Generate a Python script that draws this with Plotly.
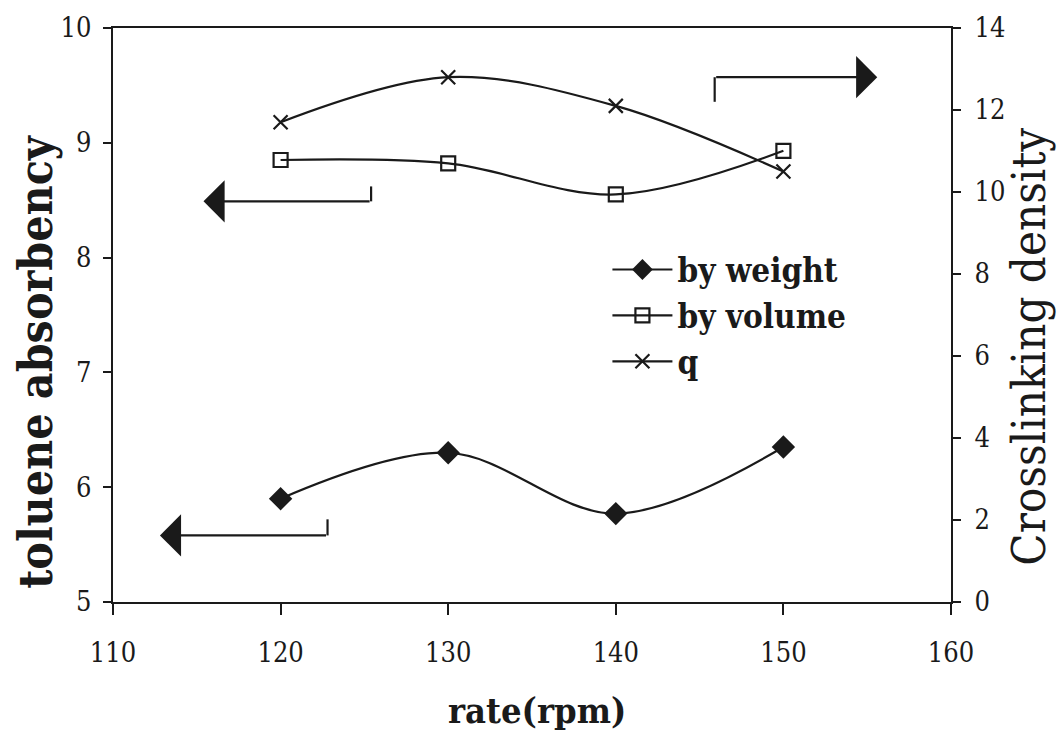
import plotly.graph_objects as go

# Mixing rate (rpm)
rate = [120, 130, 140, 150]

# Toluene absorbency (left axis)
by_weight = [5.9, 6.3, 5.77, 6.35]
by_volume = [8.85, 8.82, 8.55, 8.93]

# Crosslinking density (right axis)
q = [11.7, 12.8, 12.1, 10.5]

x_ticks = [110, 120, 130, 140, 150, 160]
left_ticks = [5, 6, 7, 8, 9, 10]
right_ticks = [0, 2, 4, 6, 8, 10, 12, 14]

SERIF = "DejaVu Serif Condensed, DejaVu Serif"
INK = "#1a1a1a"

fig = go.Figure()

line_style = dict(color=INK, width=2.2, shape="spline", smoothing=1.0)

fig.add_trace(go.Scatter(
    x=rate, y=by_weight, name="by weight", mode="lines+markers",
    line=line_style,
    marker=dict(symbol="diamond", size=18, color=INK),
    yaxis="y",
))
fig.add_trace(go.Scatter(
    x=rate, y=by_volume, name="by volume", mode="lines+markers",
    line=line_style,
    marker=dict(symbol="square-open", size=14, color=INK, line=dict(width=2.2, color=INK)),
    yaxis="y",
))
fig.add_trace(go.Scatter(
    x=rate, y=q, name="q", mode="lines+markers",
    line=line_style,
    marker=dict(symbol="x-thin-open", size=14, color=INK, line=dict(width=2.2, color=INK)),
    yaxis="y2",
))

tick_font = dict(family=SERIF, size=27, color=INK)

fig.update_layout(
    width=1061, height=732,
    margin=dict(l=113, r=110, t=28, b=130),
    paper_bgcolor="white", plot_bgcolor="white",
    showlegend=True,
    legend=dict(
        x=0.59, y=0.628, xanchor="left", yanchor="top",
        bgcolor="rgba(0,0,0,0)",
        font=dict(family=SERIF, size=33, color=INK, weight="bold"),
        tracegroupgap=0, itemwidth=60,
    ),
    xaxis=dict(
        range=[110, 160], tickvals=x_ticks, ticktext=[str(v) for v in x_ticks],
        showgrid=False, zeroline=False,
        showline=True, linecolor=INK, linewidth=2.2, mirror=True,
        ticks="outside", ticklen=11, tickwidth=2, tickcolor=INK,
        tickfont=tick_font, ticklabelstandoff=14,
    ),
    yaxis=dict(
        range=[5, 10], tickvals=left_ticks,
        showgrid=False, zeroline=False,
        showline=True, linecolor=INK, linewidth=2.2,
        ticks="outside", ticklen=8, tickwidth=2, tickcolor=INK,
        tickfont=tick_font, ticklabelstandoff=6,
    ),
    yaxis2=dict(
        range=[0, 14], tickvals=right_ticks,
        overlaying="y", side="right",
        showgrid=False, zeroline=False,
        showline=True, linecolor=INK, linewidth=2.2,
        ticks="outside", ticklen=8, tickwidth=2, tickcolor=INK,
        tickfont=tick_font, ticklabelstandoff=8,
    ),
    # inner half of the right-axis cross ticks
    yaxis3=dict(
        range=[0, 14], tickvals=right_ticks,
        overlaying="y", side="right",
        showgrid=False, zeroline=False, showline=False,
        ticks="inside", ticklen=8, tickwidth=2, tickcolor=INK,
        showticklabels=False,
    ),
)

# Axis titles
fig.add_annotation(
    text="<b>toluene absorbency</b>", textangle=-90,
    xref="paper", yref="paper", x=-0.092, y=0.42,
    xanchor="center", yanchor="middle", showarrow=False,
    font=dict(family=SERIF, size=46, color=INK),
)
fig.add_annotation(
    text="Crosslinking density", textangle=-90,
    xref="paper", yref="paper", x=1.092, y=0.445,
    xanchor="center", yanchor="middle", showarrow=False,
    font=dict(family=SERIF, size=47, color=INK),
)
fig.add_annotation(
    text="<b>rate(rpm)</b>",
    xref="paper", yref="paper", x=0.506, y=-0.188,
    xanchor="center", yanchor="middle", showarrow=False,
    font=dict(family=SERIF, size=36, color=INK),
)

# Bent pointer arrows showing which axis each group belongs to
arrows = [
    # (stub x, stub top y, line y, tip x, yref)
    (125.4, 8.62, 8.49, 115.4, "y"),
    (122.8, 5.72, 5.58, 112.8, "y"),
    (145.9, 12.2, 12.8, 155.6, "y2"),
]
for sx, sy, ly, tx, yr in arrows:
    fig.add_shape(type="line", xref="x", yref=yr, x0=sx, x1=sx, y0=sy, y1=ly,
                  line=dict(color=INK, width=2.2))
    fig.add_annotation(
        x=tx, y=ly, ax=sx, ay=ly, xref="x", yref=yr, axref="x", ayref=yr,
        text="", showarrow=True, arrowhead=1, arrowsize=3.2, arrowwidth=2.2,
        arrowcolor=INK,
    )

fig.write_html("out.html")
